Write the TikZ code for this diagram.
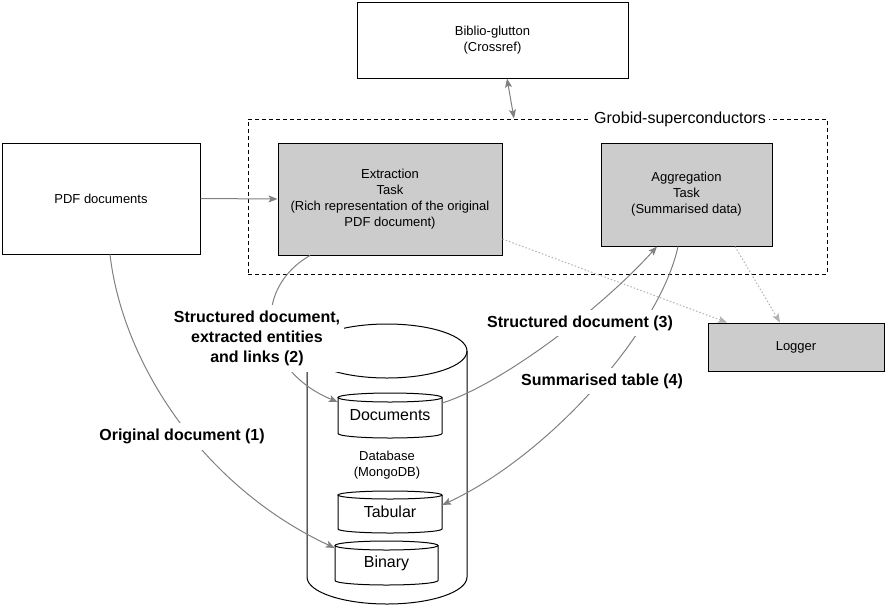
\documentclass[tikz,border=0pt]{standalone}
\usepackage{fontspec}
\setmainfont{Liberation Sans}
\usetikzlibrary{arrows.meta,calc}
\definecolor{boxgray}{HTML}{CCCCCC}
\definecolor{edgegray}{HTML}{808080}
\definecolor{dotgray}{HTML}{B3B3B3}
\newcommand\ntxt{\fontsize{13}{16}\selectfont}
\newcommand\btxt{\fontsize{16}{19}\selectfont}
\newcommand\lbltxt{\fontsize{16}{20}\selectfont\bfseries}
\tikzset{
  box/.style={draw=black, line width=1pt, align=center, font=\ntxt, inner sep=0pt},
  graybox/.style={box, fill=boxgray},
  anchorbox/.style={inner sep=0pt, align=center, font=\btxt},
  cylline/.style={draw=black, line width=1pt, fill=white},
  conn/.style={draw=edgegray, line width=1pt, -{Stealth[length=9pt,width=7pt,inset=2pt]}},
  dconn/.style={draw=edgegray, line width=1pt, {Stealth[length=9pt,width=7pt,inset=2pt]}-{Stealth[length=9pt,width=7pt,inset=2pt]}},
  dotconn/.style={draw=dotgray, line width=1pt, dash pattern=on 1.5pt off 2pt, -{Stealth[length=9pt,width=7pt,inset=2pt]}},
  lbl/.style={fill=white, font=\lbltxt, align=center, inner xsep=4pt, inner ysep=6pt},
}
\begin{document}
\begin{tikzpicture}[x=1pt,y=-1pt]
\useasboundingbox (0,0) rectangle (885,606);

% boxes
\node[box, minimum width=271pt, minimum height=76pt] (biblio) at (492.5,40) {Biblio-glutton\\(Crossref)};
\node[draw=black, line width=1pt, dash pattern=on 4pt off 3pt, minimum width=579pt, minimum height=155pt, inner sep=0pt] (grobid) at (537.5,196.5) {};
\node[box, minimum width=198pt, minimum height=111pt] (pdf) at (101,198.5) {PDF documents};
\node[graybox, minimum width=224pt, minimum height=112pt] (extract) at (390,199) {Extraction\\Task\\(Rich representation of the original\\PDF document)};
\node[graybox, minimum width=171pt, minimum height=103pt] (aggreg) at (686.5,194.5) {Aggregation\\Task\\(Summarised data)};
\node[graybox, minimum width=176pt, minimum height=48pt] (logger) at (796,347) {Logger};
\node[fill=white, font=\btxt, inner xsep=3pt, inner ysep=1pt] (gtitle) at (680,119) {Grobid-superconductors};

% database cylinder
\path[cylline] (307,351) -- (307,577) arc[start angle=180, end angle=360, x radius=80pt, y radius=27pt] -- (467,351);
\draw[line width=1pt] (387,351) ellipse[x radius=80pt, y radius=27pt];
\node[anchorbox, minimum width=160pt, minimum height=280pt, font=\ntxt] (db) at (387,465) {Database\\(MongoDB)};

% Documents
\path[cylline] (338,397.5) -- (338,433.5) arc[start angle=180, end angle=360, x radius=52pt, y radius=4.5pt] -- (442,397.5);
\draw[line width=1pt, fill=white] (390,397.5) ellipse[x radius=52pt, y radius=4.5pt];
\node[anchorbox, minimum width=104pt, minimum height=45pt] (docs) at (390,415.5) {Documents};
% Tabular
\path[cylline] (338,495) -- (338,529) arc[start angle=180, end angle=360, x radius=52pt, y radius=4pt] -- (442,495);
\draw[line width=1pt, fill=white] (390,495) ellipse[x radius=52pt, y radius=4pt];
\node[anchorbox, minimum width=104pt, minimum height=42pt] (tab) at (390,512) {Tabular};
% Binary
\path[cylline] (335,545.5) -- (335,580.5) arc[start angle=180, end angle=360, x radius=51.5pt, y radius=4.5pt] -- (438,545.5);
\draw[line width=1pt, fill=white] (386.5,545.5) ellipse[x radius=51.5pt, y radius=4.5pt];
\node[anchorbox, minimum width=103pt, minimum height=44pt] (bin) at (386.5,563) {Binary};

% connectors
\draw[conn] (pdf.east) -- (extract.west);
\draw[dconn] ([xshift=14.5pt]biblio.south) -- ([xshift=-23.5pt]grobid.north);
\draw[dotconn] ([yshift=-40pt]extract.east) -- ([xshift=-69pt]logger.north);
\draw[dotconn] ([xshift=48.5pt]aggreg.south) -- ([xshift=-16pt]logger.north);
\draw[conn] ([xshift=9pt]pdf.south) .. controls (122,360) and (200,485) .. ([yshift=15pt]bin.west);
\draw[conn] ([xshift=-80pt]extract.south) .. controls (250,290) and (260,370) .. ([yshift=13.5pt]docs.west);
\draw[conn] ([yshift=12.5pt]docs.east) .. controls (500,385) and (600,310) .. ([xshift=-29.5pt]aggreg.south);
\draw[conn] ([xshift=-8.5pt]aggreg.south) .. controls (660,330) and (550,455) .. ([yshift=7pt]tab.east);

% labels
\node[lbl] (l1) at (182,436) {Original document (1)};
\node[lbl] (l2) at (257,338.5) {Structured document,\\extracted entities\\and links (2)};
\node[lbl] (l3) at (580,323) {Structured document (3)};
\node[lbl] (l4) at (602,381) {Summarised table (4)};
\end{tikzpicture}
\end{document}
